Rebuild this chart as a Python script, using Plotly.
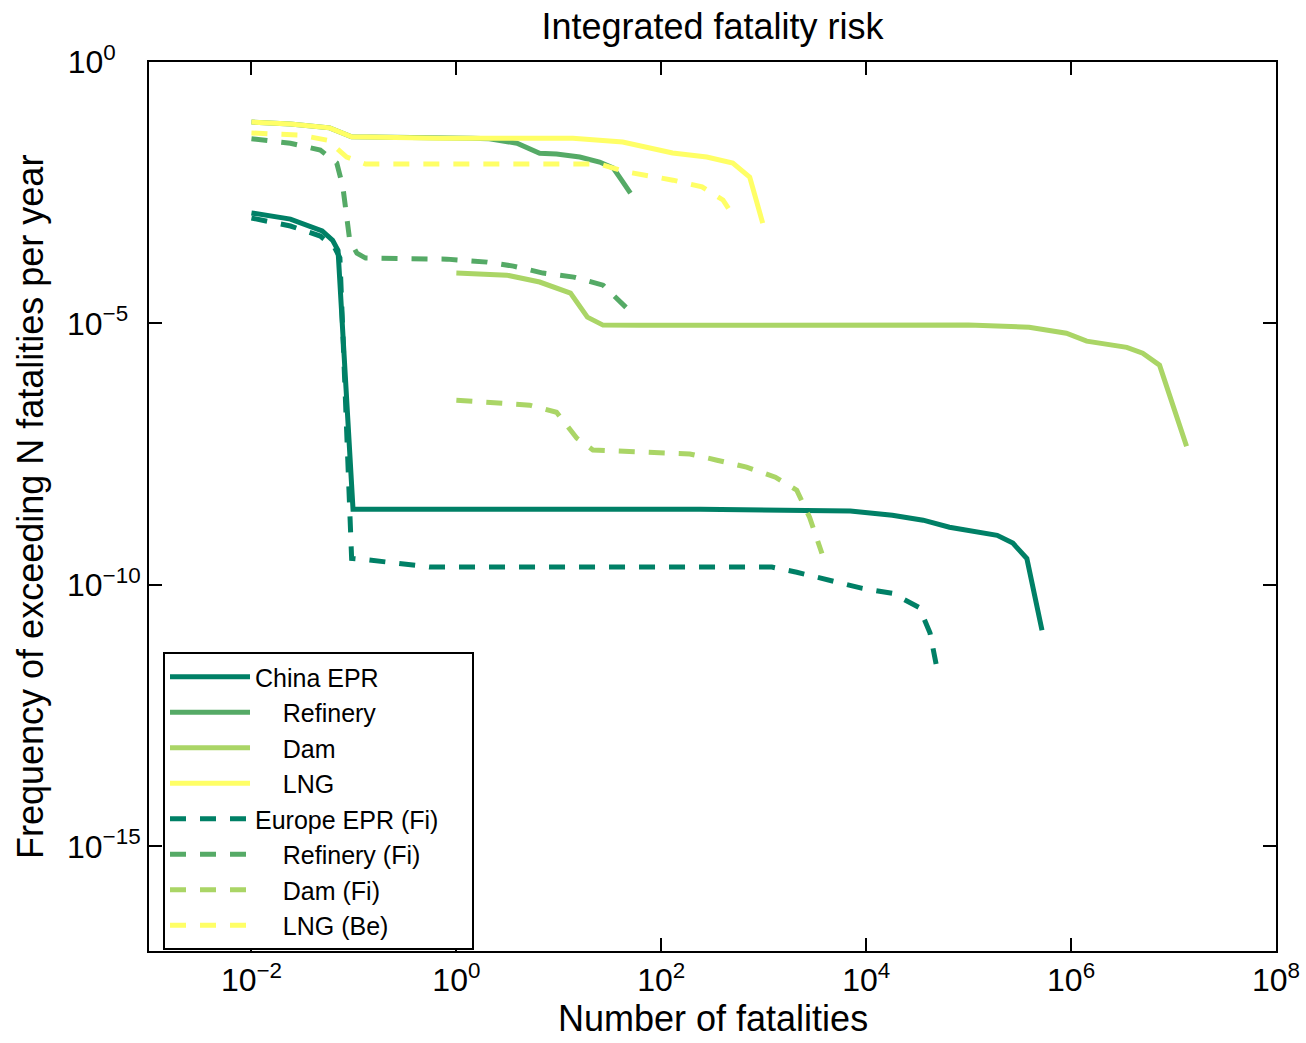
import plotly.graph_objects as go

# ---------------- data ----------------
china_epr_x = [1e-2, 2.4e-2, 4.9e-2, 6.2e-2, 7.0e-2, 9.8e-2, 2.4e2, 7e3, 1.8e4, 3.6e4, 6.5e4, 1.9e5, 2.7e5, 3.7e5, 5.2e5]
china_epr_y = [1.3e-3, 9.9e-4, 5.9e-4, 3.9e-4, 2.5e-4, 2.8e-9, 2.8e-9, 2.6e-9, 2.15e-9, 1.73e-9, 1.27e-9, 8.9e-10, 6.3e-10, 3.2e-10, 1.36e-11]

refinery_x = [1e-2, 2.4e-2, 5.8e-2, 9.5e-2, 1.4, 2.1, 3.9, 6.5, 9.5, 16, 25, 34, 41, 50]
refinery_y = [7.1e-2, 6.5e-2, 5.5e-2, 3.7e-2, 3.5e-2, 3.4e-2, 2.8e-2, 1.8e-2, 1.74e-2, 1.52e-2, 1.22e-2, 9.4e-3, 5.5e-3, 3.1e-3]

dam_x = [1.0, 3.1, 6.5, 13, 19, 27, 62, 1.0e5, 3.9e5, 9.0e5, 1.42e6, 3.5e6, 5.0e6, 7.3e6, 1.34e7]
dam_y = [9.2e-5, 8.4e-5, 6.2e-5, 3.8e-5, 1.32e-5, 9.3e-6, 9.2e-6, 9.3e-6, 8.5e-6, 6.5e-6, 4.6e-6, 3.5e-6, 2.7e-6, 1.6e-6, 4.5e-8]

lng_x = [1e-2, 2.4e-2, 5.8e-2, 9.5e-2, 0.69, 13.7, 42, 72, 129, 278, 499, 730, 977]
lng_y = [7.1e-2, 6.5e-2, 5.5e-2, 3.7e-2, 3.5e-2, 3.5e-2, 2.95e-2, 2.37e-2, 1.82e-2, 1.52e-2, 1.17e-2, 6.3e-3, 8.3e-4]

europe_epr_x = [1e-2, 2.4e-2, 4.7e-2, 6.5e-2, 7.3e-2, 9.5e-2, 1.4e-1, 3.5e-1, 5.5e-1, 1.2e3, 2.1e3, 5.2e3, 9.2e3, 1.8e4, 3.3e4, 4.2e4, 5.0e4]
europe_epr_y = [1.04e-3, 7.3e-4, 4.7e-4, 2.8e-4, 1.8e-4, 3.2e-10, 3.0e-10, 2.4e-10, 2.2e-10, 2.2e-10, 1.75e-10, 1.13e-10, 8.6e-11, 6.9e-11, 3.7e-11, 1.2e-11, 2.1e-12]

refinery_fi_x = [1e-2, 2.4e-2, 4.7e-2, 6.8e-2, 7.8e-2, 8.5e-2, 9.1e-2, 1.07e-1, 1.3e-1, 8.1e-1, 2.0, 3.6, 7.0, 14, 27, 46, 52]
refinery_fi_y = [3.4e-2, 2.8e-2, 2.07e-2, 1.17e-2, 4.1e-3, 1.13e-3, 3.9e-4, 2.2e-4, 1.78e-4, 1.7e-4, 1.49e-4, 1.25e-4, 9.2e-5, 7.7e-5, 5.4e-5, 1.97e-5, 1.51e-5]

dam_fi_x = [1.0, 2.5, 5.2, 9.5, 15, 21.5, 1.0e2, 190, 3.5e2, 6.8e2, 1.3e3, 2.1e3, 2.8e3, 3.7e3]
dam_fi_y = [3.4e-7, 3.1e-7, 2.74e-7, 2.0e-7, 6.4e-8, 3.8e-8, 3.46e-8, 3.2e-8, 2.43e-8, 1.79e-8, 1.15e-8, 6.5e-9, 1.97e-9, 4.0e-10]

lng_be_x = [1e-2, 3.0e-2, 5.5e-2, 8.5e-2, 1.3e-1, 25, 46, 1.3e2, 2.5e2, 4.0e2, 5.0e2]
lng_be_y = [4.4e-2, 4.0e-2, 3.2e-2, 1.52e-2, 1.12e-2, 1.12e-2, 7.9e-3, 5.5e-3, 4.1e-3, 2.3e-3, 1.18e-3]

NB = "\u00a0"
MINUS = "\u2212"
x_tick_vals = [1e-2, 1e0, 1e2, 1e4, 1e6, 1e8]
x_tick_text = ["10<sup>" + MINUS + "2</sup>", "10<sup>0</sup>", "10<sup>2</sup>",
               "10<sup>4</sup>", "10<sup>6</sup>", "10<sup>8</sup>"]
y_tick_vals = [1e-15, 1e-10, 1e-5, 1e0]
y_tick_text = ["10<sup>" + MINUS + "15</sup>", "10<sup>" + MINUS + "10</sup>",
               "10<sup>" + MINUS + "5" + NB * 2 + "</sup>", "10<sup>0" + NB * 4 + "</sup>"]

title_text = "Integrated fatality risk"
x_title_text = "Number of fatalities"
y_title_text = "Frequency of exceeding N fatalities per year"

DASH = "16px,14px"
series = [
    ("China EPR", china_epr_x, china_epr_y, "rgb(0,128,102)", "solid"),
    (NB * 4 + "Refinery", refinery_x, refinery_y, "rgb(85,170,102)", "solid"),
    (NB * 4 + "Dam", dam_x, dam_y, "rgb(170,213,102)", "solid"),
    (NB * 4 + "LNG", lng_x, lng_y, "rgb(255,255,102)", "solid"),
    ("Europe EPR (Fi)" + NB * 4, europe_epr_x, europe_epr_y, "rgb(0,128,102)", DASH),
    (NB * 4 + "Refinery (Fi)", refinery_fi_x, refinery_fi_y, "rgb(85,170,102)", DASH),
    (NB * 4 + "Dam (Fi)", dam_fi_x, dam_fi_y, "rgb(170,213,102)", DASH),
    (NB * 4 + "LNG (Be)", lng_be_x, lng_be_y, "rgb(255,255,102)", DASH),
]

fig = go.Figure()
for name, xs, ys, col, dash in series:
    fig.add_trace(go.Scatter(
        x=xs, y=ys, mode="lines", name=name,
        line=dict(color=col, width=5, dash=dash),
    ))

FONT = "Liberation Sans, Arial, sans-serif"

W, H = 1306, 1043
L, R, T, B = 149, 30, 62, 92
PW, PH = W - L - R, H - T - B

axis_common = dict(
    type="log",
    automargin=False,
    showgrid=False,
    zeroline=False,
    showline=True,
    linecolor="black",
    linewidth=2,
    mirror="ticks",
    ticks="inside",
    ticklen=13,
    tickwidth=2,
    tickcolor="black",
    ticklabeloverflow="allow",
    tickfont=dict(family=FONT, size=32, color="black"),
)

fig.update_layout(
    width=W,
    height=H,
    margin=dict(l=L, r=R, t=T, b=B, autoexpand=False),
    paper_bgcolor="white",
    plot_bgcolor="white",
    font=dict(family=FONT, color="black"),
    title=dict(
        text=title_text,
        x=(L + (W - R)) / 2 / W,
        xanchor="center",
        y=1 - 26 / H,
        yanchor="middle",
        font=dict(family=FONT, size=36, color="black"),
    ),
    xaxis=dict(**axis_common, range=[-3, 8], tickvals=x_tick_vals, ticktext=x_tick_text),
    yaxis=dict(**axis_common, range=[-17, 0], tickvals=y_tick_vals, ticktext=y_tick_text),
    legend=dict(
        x=14 / PW,
        y=(951 - 652) / PH,
        xanchor="left",
        yanchor="top",
        bgcolor="white",
        bordercolor="black",
        borderwidth=2,
        font=dict(family=FONT, size=25, color="black"),
        itemwidth=80,
        tracegroupgap=0,
    ),
    showlegend=True,
    annotations=[
        dict(text=x_title_text, xref="paper", yref="paper",
             x=0.5, y=-(1019 - (T + PH)) / PH, xanchor="center", yanchor="middle",
             borderpad=0, showarrow=False, font=dict(family=FONT, size=36, color="black")),
        dict(text=y_title_text, xref="paper", yref="paper", textangle=-90,
             x=(30 - L) / PW, y=(T + PH - 507) / PH, xanchor="center", yanchor="middle",
             showarrow=False, font=dict(family=FONT, size=36, color="black")),
    ],
)

fig.write_html("out.html", config={"displayModeBar": False},
               post_script="document.body.style.margin='0';")
